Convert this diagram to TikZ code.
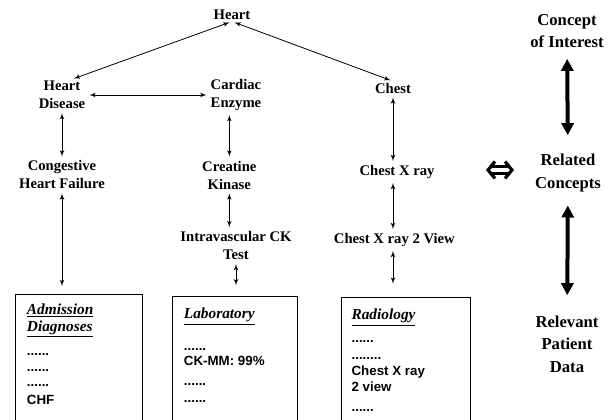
\documentclass[tikz,border=0pt]{standalone}
\usepackage{fontspec}
\setmainfont{Liberation Serif}
\setsansfont{Liberation Sans}
\usetikzlibrary{arrows,arrows.meta,positioning}
\tikzstyle{concept} = [font=\bfseries\fontsize{11}{13.5}\selectfont,align=center,inner sep=1pt]
\tikzstyle{level} = [font=\bfseries\fontsize{12.5}{17}\selectfont,align=center,inner sep=1pt]
\tikzstyle{record} = [draw,line width=0.5pt,anchor=north,minimum height=100pt]
\tikzstyle{entries} = [font=\sffamily\bfseries\fontsize{10}{12}\selectfont,align=left,
  anchor=north west,inner sep=0pt]
\tikzstyle{line} = [draw,line width=0.6pt,latex'-latex',shorten <=2pt,shorten >=2pt]
\tikzstyle{bigline} = [draw,line width=3pt,
  {Triangle[length=9pt,width=9pt]}-{Triangle[length=9pt,width=9pt]}]
\newcommand{\rubric}[1]{\underline{\rmfamily\itshape\fontsize{11.5}{13}\selectfont #1}}

\begin{document}
\begin{tikzpicture}[x=0.75pt,y=-0.75pt,node distance=60pt]
\useasboundingbox (0,0) rectangle (611,420);

\node [concept] (heart) at (232,15) {Heart};
\node [concept] (heart_disease) at (62,95) {Heart\\Disease};
\node [concept] (cardiac_enzyme) at (236,95) {Cardiac\\Enzyme};
\node [concept] (chest) at (393,88) {Chest};

\path [line] (heart.south) -- ([xshift=7pt]heart_disease.north);
\path [line] (heart.south) -- (chest.north);
\path [line] (heart_disease.east) -- (cardiac_enzyme.west);

\node [concept, below of=heart_disease] (chf) {Congestive\\Heart Failure};
\node [concept, below of=cardiac_enzyme, xshift=-5pt] (creatine) {Creatine\\Kinase};
\node [concept, below of=creatine, node distance=53pt, xshift=5pt] (ck_test) {Intravascular CK\\Test};
\node [concept, below of=chest, node distance=63pt, xshift=3pt] (xray) {Chest X ray};
\node [concept, below of=xray, node distance=51pt, xshift=-2pt] (xray_two) {Chest X ray 2 View};

\path [line] (heart_disease) -- (chf);
\path [line] (cardiac_enzyme.south -| creatine) -- (creatine);
\path [line] (creatine.south -| creatine) -- (ck_test.north -| creatine);
\path [line] (chest) -- (xray.north -| chest);
\path [line] (xray.south -| chest) -- (xray_two.north -| chest);

% patient data
\node [record, minimum width=95.25pt] (adm_box) at (78.5,294) {};
\node [record, minimum width=93.75pt] (lab_box) at (234.5,296) {};
\node [record, minimum width=96.75pt] (rad_box) at (405.5,297) {};

\path [line, shorten >=6pt] (chf) -- (adm_box.north -| chf);
\path [line, shorten >=8pt] (ck_test) -- (lab_box.north -| ck_test);
\path [line, shorten >=10pt] (xray_two.south -| chest) -- (rad_box.north -| chest);

\node [entries] (adm_list) at ([xshift=9pt,yshift=-7pt]adm_box.north west)
  {\rubric{Admission}\\[1pt]\rubric{Diagnoses}\\[6pt] ......\\ ......\\[-1pt] ......\\[2pt] CHF};
\node [entries] (lab_list) at ([xshift=9pt,yshift=-9pt]lab_box.north west)
  {\rubric{Laboratory}\\[12pt] ......\\[-1pt] CK-MM: 99\%\\[3pt] ......\\[1pt] ......};
\node [entries] (rad_list) at ([xshift=8pt,yshift=-9pt]rad_box.north west)
  {\rubric{Radiology}\\[5pt] ......\\[1pt] ........\\ Chest X ray\\ 2 view\\[3pt] ......};

% levels
\node [level] (interest) at (567,31) {Concept\\of Interest};
\node [level] (related) at (568,173) {Related\\Concepts};
\node [level] (patient_data) at (567,344) {Relevant\\Patient\\Data};

\path [bigline, shorten <=7pt, shorten >=13pt] (interest) -- (related);
\path [bigline, shorten <=9pt, shorten >=14pt] (related) -- (patient_data);

% equivalence sign
\begin{scope}[line width=2.4pt, line join=miter]
\draw (495,161.5) -- (488,170) -- (495,178.5);
\draw (505,161.5) -- (512,170) -- (505,178.5);
\draw (490,166.3) -- (510,166.3) (490,173.7) -- (510,173.7);
\end{scope}

\end{tikzpicture}
\end{document}
